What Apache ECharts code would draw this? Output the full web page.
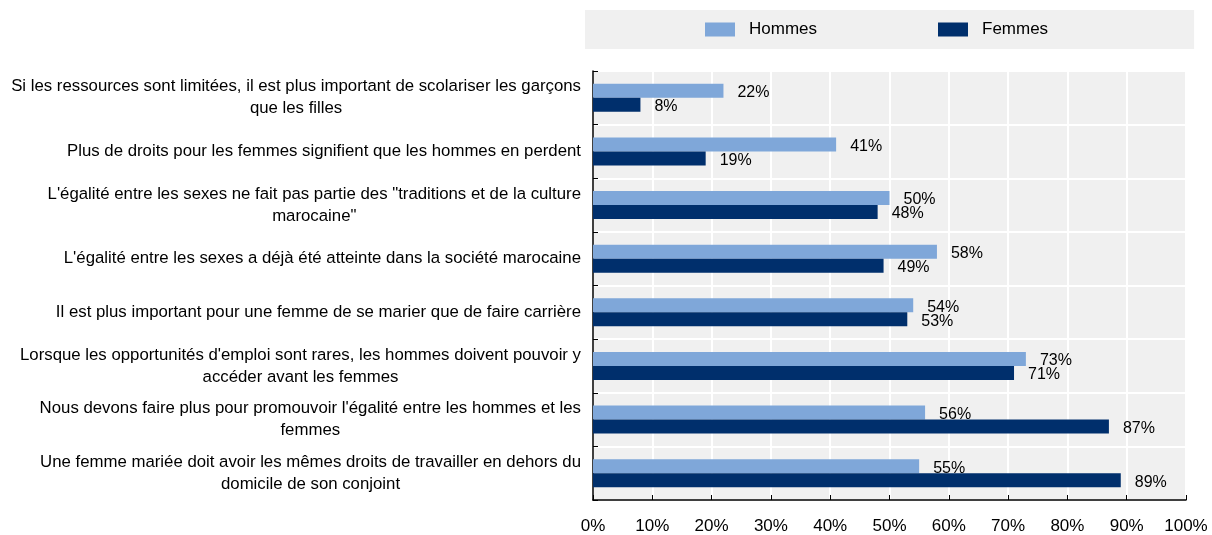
<!DOCTYPE html>
<html>
<head>
<meta charset="utf-8">
<script src="https://cdn.jsdelivr.net/npm/echarts@6/dist/echarts.min.js"></script>
<style>
  html, body { margin: 0; padding: 0; background: #fff; }
  #chart { width: 1212px; height: 535px; }
</style>
</head>
<body>
<div id="chart"></div>
<script>
const categories = [
  "Si les ressources sont limitées, il est plus important de scolariser les garçons\nque les filles",
  "Plus de droits pour les femmes signifient que les hommes en perdent",
  "L'égalité entre les sexes ne fait pas partie des \"traditions et de la culture\nmarocaine\"",
  "L'égalité entre les sexes a déjà été atteinte dans la société marocaine",
  "Il est plus important pour une femme de se marier que de faire carrière",
  "Lorsque les opportunités d'emploi sont rares, les hommes doivent pouvoir y\naccéder avant les femmes",
  "Nous devons faire plus pour promouvoir l'égalité entre les hommes et les\nfemmes",
  "Une femme mariée doit avoir les mêmes droits de travailler en dehors du\ndomicile de son conjoint"
];
const hommes = [22, 41, 50, 58, 54, 73, 56, 55];
const femmes = [8, 19, 48, 49, 53, 71, 87, 89];

const FONT = "'Liberation Sans', Arial, sans-serif";

const chart = echarts.init(document.getElementById('chart'));

const barLabel = {
  show: true,
  position: 'right',
  distance: 14,
  offset: [0, 2],
  formatter: '{c}%',
  color: '#000',
  fontFamily: FONT,
  fontSize: 16
};

const option = {
  animation: false,
  textStyle: { fontFamily: FONT },
  legend: {
    left: 585,
    top: 10,
    padding: [11, 146, 11, 120],
    backgroundColor: '#f0f0f0',
    itemWidth: 30,
    itemHeight: 14,
    itemGap: 121,
    icon: 'rect',
    textStyle: { color: '#000', fontSize: 17, fontFamily: FONT, padding: [0, 0, 0, 9] },
    data: ['Hommes', 'Femmes']
  },
  grid: {
    left: 593,
    right: 26,
    top: 71,
    bottom: 34,
    show: true,
    backgroundColor: '#f0f0f0',
    borderWidth: 0
  },
  xAxis: {
    type: 'value',
    min: 0,
    max: 100,
    interval: 10,
    axisLine: { show: true, lineStyle: { color: '#000', width: 1.5 } },
    axisTick: { show: true, inside: true, length: 5, lineStyle: { color: '#000' } },
    axisLabel: { formatter: '{value}%', color: '#000', fontSize: 17, fontFamily: FONT, margin: 18 },
    splitLine: { show: true, lineStyle: { color: '#fff', width: 2 } }
  },
  yAxis: {
    type: 'category',
    inverse: true,
    data: categories,
    axisLine: { show: true, lineStyle: { color: '#000', width: 1.5 } },
    axisTick: { show: true, inside: true, length: 5, lineStyle: { color: '#000' } },
    splitLine: { show: true, lineStyle: { color: '#fff', width: 2 } },
    axisLabel: {
      margin: 12,
      align: 'right',
      color: '#000',
      fontSize: 16.8,
      fontFamily: FONT,
      lineHeight: 22,
      // centre every line inside the label block, block stays right aligned
      formatter: v => v.split('\n').map(s => '{c|' + s + '}').join('\n'),
      rich: {
        c: { align: 'center', fontSize: 16.8, fontFamily: FONT, color: '#000', lineHeight: 22 }
      }
    }
  },
  series: [
    {
      name: 'Hommes',
      type: 'bar',
      data: hommes,
      barWidth: 14,
      barGap: '0%',
      itemStyle: { color: '#7fa7d9' },
      label: barLabel
    },
    {
      name: 'Femmes',
      type: 'bar',
      data: femmes,
      barWidth: 14,
      barGap: '0%',
      itemStyle: { color: '#002f6c' },
      label: barLabel
    }
  ]
};

chart.setOption(option);
</script>
</body>
</html>
